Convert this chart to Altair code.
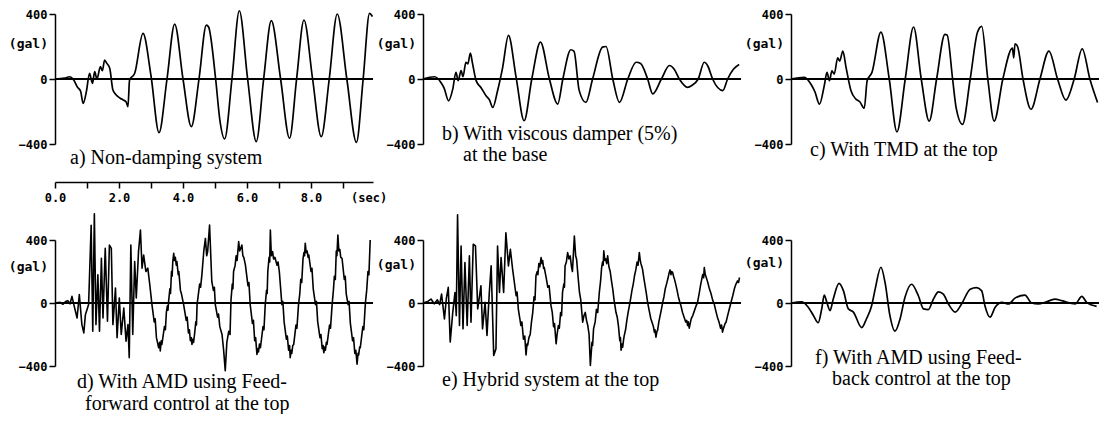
import altair as alt
import pandas as pd

# ---- values (time in s, acceleration in gal) ----
a_pts = [(0.00, 0), (0.30, 5), (0.46, 14), (0.58, -5), (0.70, -50), (0.80, -75), (0.88, -150),
         (0.98, -78), (1.08, 35), (1.17, -27), (1.24, 45), (1.31, 0), (1.42, 76), (1.48, 51),
         (1.55, 117), (1.62, 96), (1.71, 66), (1.81, -68), (1.90, -95), (1.97, -109), (2.05, -120),
         (2.13, -129), (2.22, -140), (2.28, -170), (2.33, -6), (2.49, 35), (2.75, 281), (3.00, 20),
         (3.25, -330), (3.50, 0), (3.74, 338), (4.00, 0), (4.26, -293), (4.50, 0), (4.73, 332),
         (4.80, 320), (5.02, 0), (5.15, -250), (5.30, -369), (5.53, 0), (5.76, 420), (6.02, 0),
         (6.29, -385), (6.52, 0), (6.76, 359), (7.05, 0), (7.33, -365), (7.55, 0), (7.78, 363),
         (8.05, 0), (8.32, -355), (8.57, 0), (8.82, 400), (9.12, 0), (9.42, -390), (9.63, 0),
         (9.83, 404), (9.92, 384)]

b_pts = [(0.00, 0), (0.36, 14), (0.56, -21), (0.66, -56), (0.80, -134), (0.93, -62), (1.03, 41),
         (1.10, -10), (1.19, 52), (1.25, 14), (1.34, 103), (1.40, 93), (1.48, 159), (1.55, 93),
         (1.66, -10), (1.81, -52), (1.97, -103), (2.08, -130), (2.18, -175), (2.33, -72), (2.49, 72),
         (2.67, 269), (2.91, 10), (3.16, -257), (3.40, 0), (3.67, 227), (3.95, 0), (4.21, -154),
         (4.37, 0), (4.62, 180), (4.72, 170), (4.88, -70), (5.09, -144), (5.30, 0), (5.61, 196),
         (5.72, 200), (5.93, 0), (6.14, -144), (6.40, 0), (6.66, 103), (6.80, 95), (7.02, 0),
         (7.18, -92), (7.45, 0), (7.70, 83), (7.85, 60), (8.01, 0), (8.27, -51), (8.40, -40),
         (8.60, 0), (8.79, 103), (8.90, 80), (9.05, 0), (9.37, -71), (9.52, 0), (9.70, 60),
         (9.88, 89)]

c_pts = [(0.00, 0), (0.42, 10), (0.62, -31), (0.75, -80), (0.89, -155), (1.04, -41), (1.125, 41),
         (1.20, -10), (1.28, 50), (1.35, 30), (1.46, 130), (1.52, 110), (1.62, 172), (1.72, 72),
         (1.875, -72), (2.03, -124), (2.15, -140), (2.29, -180), (2.38, -10), (2.53, 41),
         (2.81, 289), (3.07, 0), (3.31, -325), (3.57, 0), (3.83, 320), (4.07, 0), (4.32, -259),
         (4.55, 0), (4.81, 275), (4.88, 270), (5.05, 0), (5.16, -176), (5.36, -279), (5.60, 0),
         (5.83, 289), (5.96, 324), (6.15, 0), (6.35, -259), (6.62, 0), (6.92, 190), (6.96, 130),
         (7.00, 217), (7.08, 200), (7.25, 0), (7.50, -186), (7.78, 0), (8.06, 172), (8.33, 0),
         (8.59, -130), (8.85, 0), (9.10, 186), (9.34, 0), (9.58, -145), (9.78, 0), (9.95, 155)]

d_pts = [(0.00, 0), (0.15, 5), (0.25, -8), (0.33, 10), (0.40, 15), (0.47, -5), (0.53, 42),
         (0.60, -20), (0.69, -95), (0.76, 53), (0.84, -137), (0.90, -190), (0.95, -74), (1.05, -10),
         (1.13, 493), (1.18, -179), (1.23, 567), (1.28, -137), (1.34, 179), (1.39, -179), (1.45, 284),
         (1.50, -95), (1.57, 347), (1.64, -116), (1.70, 368), (1.76, 347), (1.81, -137), (1.89, 95),
         (1.94, -221), (2.01, 32), (2.07, -200), (2.15, -32), (2.22, -242), (2.28, -137), (2.32, -347),
         (2.37, 368), (2.43, -200), (2.49, 263), (2.54, 32), (2.61, 326), (2.67, 463), (2.72, 221),
         (2.77, 305), (2.84, 200), (2.90, 221), (2.96, 120), (3.03, -10), (3.10, -120), (3.13, -100),
         (3.17, -220), (3.24, -284), (3.27, -250), (3.29, -305), (3.32, -240), (3.34, -263),
         (3.42, -150), (3.45, -170), (3.48, -60), (3.51, -20), (3.53, -45), (3.55, 10), (3.59, 90),
         (3.61, 60), (3.64, 200), (3.66, 170), (3.68, 260), (3.71, 316), (3.73, 270), (3.76, 290),
         (3.79, 240), (3.81, 263), (3.85, 180), (3.87, 200), (3.92, 80), (3.95, 60), (4.02, -10),
         (4.10, -110), (4.13, -90), (4.17, -190), (4.20, -170), (4.23, -240), (4.26, -220),
         (4.28, -263), (4.31, -230), (4.33, -250), (4.36, -200), (4.40, -120), (4.42, -140),
         (4.44, -10), (4.52, 120), (4.55, 100), (4.59, 179), (4.65, 330), (4.70, 410), (4.74, 300),
         (4.77, 326), (4.83, 495), (4.90, 137), (4.95, 80), (4.98, 100), (5.01, -10), (5.08, -90),
         (5.11, -70), (5.15, -150), (5.22, -200), (5.27, -300), (5.32, -430), (5.37, -250),
         (5.43, -179), (5.47, -200), (5.50, 20), (5.54, 120), (5.56, 90), (5.58, 200), (5.63, 240),
         (5.66, 300), (5.69, 270), (5.74, 390), (5.77, 330), (5.79, 340), (5.84, 368), (5.87, 300),
         (5.90, 290), (5.95, 242), (6.03, 110), (6.06, 130), (6.10, -10), (6.17, -130), (6.20, -110),
         (6.24, -240), (6.27, -220), (6.31, -326), (6.34, -290), (6.36, -310), (6.39, -260),
         (6.42, -284), (6.50, -150), (6.53, -170), (6.57, -10), (6.61, 80), (6.63, 60), (6.65, 200),
         (6.69, 290), (6.71, 260), (6.73, 463), (6.76, 300), (6.80, 326), (6.83, 280), (6.87, 290),
         (6.94, 240), (6.97, 260), (7.01, 200), (7.09, -10), (7.12, 10), (7.16, -120), (7.23, -230),
         (7.26, -210), (7.30, -300), (7.33, -270), (7.35, -347), (7.38, -300), (7.40, -320),
         (7.43, -270), (7.46, -263), (7.53, -140), (7.56, -160), (7.61, -10), (7.65, 60), (7.68, 150),
         (7.71, 130), (7.75, 280), (7.78, 320), (7.80, 300), (7.82, 379), (7.85, 320), (7.88, 330),
         (7.91, 290), (7.93, 305), (8.00, 200), (8.03, 220), (8.07, 90), (8.14, -10), (8.17, 10),
         (8.21, -120), (8.28, -220), (8.31, -200), (8.35, -290), (8.38, -270), (8.40, -316),
         (8.43, -280), (8.45, -300), (8.48, -250), (8.50, -263), (8.58, -140), (8.61, -160),
         (8.66, -10), (8.70, 80), (8.73, 170), (8.76, 150), (8.79, 330), (8.81, 300), (8.84, 432),
         (8.87, 330), (8.90, 340), (8.93, 290), (8.97, 284), (9.04, 150), (9.07, 170), (9.10, 60),
         (9.16, -10), (9.19, 10), (9.23, -130), (9.30, -240), (9.33, -220), (9.37, -320),
         (9.40, -300), (9.44, -389), (9.47, -320), (9.49, -330), (9.52, -280), (9.54, -284),
         (9.62, -150), (9.65, -170), (9.70, 0), (9.74, 80), (9.78, 200), (9.81, 180), (9.85, 400)]

e_pts = [(0.00, 0), (0.15, 10), (0.25, 25), (0.35, -5), (0.45, 20), (0.52, -10), (0.58, 57),
         (0.67, -101), (0.73, 30), (0.79, 99), (0.85, -248), (0.93, -59), (1.00, 67), (1.04, -80),
         (1.08, 560), (1.14, -143), (1.19, 362), (1.25, -164), (1.31, 257), (1.38, -143), (1.45, 299),
         (1.50, -122), (1.57, 373), (1.64, 362), (1.71, -38), (1.81, 109), (1.86, -164), (1.94, 4),
         (2.00, -206), (2.07, 60), (2.13, 236), (2.21, -333), (2.28, -290), (2.33, 362), (2.39, 67),
         (2.44, 288), (2.52, 67), (2.59, 446), (2.67, 236), (2.73, 341), (2.80, 215), (2.91, 46),
         (2.94, 70), (2.98, -40), (3.06, -143), (3.09, -120), (3.14, -230), (3.18, -210),
         (3.22, -330), (3.25, -260), (3.27, -269), (3.31, -220), (3.35, -200), (3.39, -120),
         (3.43, -59), (3.47, 40), (3.50, 20), (3.53, 173), (3.57, 200), (3.59, 180), (3.62, 250),
         (3.65, 230), (3.69, 288), (3.72, 250), (3.74, 270), (3.77, 220), (3.79, 225), (3.85, 160),
         (3.90, 100), (3.94, 110), (4.00, -17), (4.04, -60), (4.08, -150), (4.11, -130), (4.16, -259),
         (4.19, -200), (4.23, -143), (4.26, -160), (4.30, -60), (4.33, -80), (4.36, 67), (4.40, 120),
         (4.42, 100), (4.44, 236), (4.48, 260), (4.52, 320), (4.56, 280), (4.60, 299), (4.64, 230),
         (4.67, 200), (4.73, 425), (4.77, 300), (4.80, 278), (4.84, 180), (4.89, 67), (4.93, 20),
         (4.99, -122), (5.03, -80), (5.07, -60), (5.11, -110), (5.15, -143), (5.19, -200),
         (5.23, -396), (5.28, -250), (5.30, -270), (5.33, -164), (5.38, -120), (5.42, -40),
         (5.46, -60), (5.51, 67), (5.55, 140), (5.58, 220), (5.61, 260), (5.63, 240), (5.65, 331),
         (5.68, 270), (5.71, 280), (5.74, 250), (5.77, 299), (5.81, 230), (5.85, 200), (5.89, 140),
         (5.93, 88), (5.97, 20), (6.03, -59), (6.07, -90), (6.11, -150), (6.15, -240), (6.17, -220),
         (6.19, -300), (6.22, -260), (6.24, -280), (6.27, -230), (6.29, -206), (6.33, -170),
         (6.37, -110), (6.41, -60), (6.45, -17), (6.49, 30), (6.53, 80), (6.57, 120), (6.61, 173),
         (6.65, 210), (6.69, 260), (6.72, 240), (6.76, 320), (6.79, 270), (6.81, 250), (6.84, 230),
         (6.86, 215), (6.90, 160), (6.94, 110), (6.98, 60), (7.02, 4), (7.07, -50), (7.12, -100),
         (7.17, -130), (7.20, -150), (7.23, -185), (7.25, -170), (7.28, -217), (7.31, -180),
         (7.33, -175), (7.37, -120), (7.41, -80), (7.45, -40), (7.49, 4), (7.53, 40), (7.57, 90),
         (7.61, 120), (7.65, 152), (7.69, 190), (7.72, 210), (7.75, 180), (7.77, 200), (7.80, 194),
         (7.83, 170), (7.86, 150), (7.91, 109), (7.94, 80), (7.98, 40), (8.02, 10), (8.06, -17),
         (8.11, -60), (8.16, -90), (8.21, -120), (8.24, -110), (8.27, -143), (8.29, -120),
         (8.32, -160), (8.35, -130), (8.38, -101), (8.43, -80), (8.48, -50), (8.53, -20), (8.58, 4),
         (8.63, 60), (8.68, 120), (8.71, 150), (8.74, 180), (8.77, 160), (8.79, 225), (8.82, 180),
         (8.84, 170), (8.87, 150), (8.90, 130), (8.95, 90), (9.00, 60), (9.05, 20), (9.10, -6),
         (9.15, -50), (9.20, -90), (9.25, -120), (9.30, -160), (9.33, -140), (9.36, -185),
         (9.39, -160), (9.41, -150), (9.44, -130), (9.47, -122), (9.52, -80), (9.57, -40),
         (9.62, 0), (9.68, 46), (9.73, 90), (9.78, 120), (9.83, 140), (9.86, 130), (9.89, 162)]

f_pts = [(0.00, 0), (0.33, 8), (0.54, -27), (0.70, -79), (0.85, -125), (0.96, -37), (1.04, 50),
         (1.12, 4), (1.22, -48), (1.32, 25), (1.50, 125), (1.64, 77), (1.79, -37), (1.95, -58),
         (2.21, -156), (2.36, -100), (2.52, -17), (2.63, 88), (2.81, 227), (2.94, 129), (3.09, -79),
         (3.25, -179), (3.41, -100), (3.56, 35), (3.77, 119), (3.98, 46), (4.14, -37), (4.29, -42),
         (4.45, 25), (4.61, 71), (4.76, 56), (4.92, -6), (5.13, -58), (5.33, -6), (5.60, 88),
         (5.80, 98), (5.96, 77), (6.06, -17), (6.22, -90), (6.38, -27), (6.59, 4), (6.80, -6),
         (7.00, 31), (7.31, 50), (7.52, 0), (7.73, -6), (7.94, 4), (8.25, 25), (8.46, 15), (8.88, -6),
         (9.09, 42), (9.24, 4), (9.55, -21), (9.76, 10), (9.92, 25)]

captions = {
    "a": [("a) Non-damping system", 15, 150)],
    "b": [("b) With viscous damper (5%)", 19, 126), ("at the base", 40, 147)],
    "c": [("c) With TMD at the top", 19, 142)],
    "d": [("d) With AMD using Feed-", 22, 148), ("forward control at the top", 30, 170)],
    "e": [("e) Hybrid system at the top", 19, 146)],
    "f": [("f) With AMD using Feed-", 24, 124), ("back control at the top", 41, 145)],
}

PX_PER_S = 32
W = 318
W_LAST = 308
H_TOP = 130
H_BOT = 126
MONO = "DejaVu Sans Mono"
SERIF = "Liberation Serif"

one = pd.DataFrame({"k": [0]})


def panel(pts, width, height, caps, interp, stroke, gal_y, time_axis=False):
    df = pd.DataFrame({"t": [p[0] for p in pts], "g": [p[1] for p in pts]})
    tmax = width / PX_PER_S
    df = df[df["t"] <= tmax]
    if time_axis:
        xaxis = alt.Axis(
            orient="bottom", offset=38, values=[0, 1, 2, 3, 4, 5, 6, 7, 8, 9, 9.8],
            labelExpr="datum.value == 9.8 ? '(sec)' : (datum.value % 2 == 0 ? format(datum.value, '.1f') : '')",
            tickOpacity={"condition": {"test": "datum.value > 9.5", "value": 0}, "value": 1},
            labelFlush=False, labelPadding=4, title=None, tickSize=6,
        )
    else:
        xaxis = None
    x = alt.X("t:Q", scale=alt.Scale(domain=[0, tmax], nice=False, zero=False), axis=xaxis)
    y = alt.Y("g:Q", scale=alt.Scale(domain=[-400, 400], nice=False),
              axis=alt.Axis(values=[-400, 0, 400], title=None, labelPadding=2))
    base = alt.Chart(df)
    zero = base.mark_rule(color="black", strokeWidth=1).encode(y=alt.datum(0))
    line = base.mark_line(color="black", strokeWidth=stroke, interpolate=interp,
                          strokeJoin="round").encode(x=x, y=y)
    gal = alt.Chart(one).mark_text(
        font=MONO, fontSize=13, fontWeight="bold", align="right", baseline="middle", color="black"
    ).encode(x=alt.value(-7), y=alt.value(gal_y), text=alt.value("(gal)"))
    layers = [zero, line, gal]
    for txt, cx, cy in caps:
        layers.append(
            alt.Chart(one).mark_text(
                font=SERIF, fontSize=20, align="left", baseline="alphabetic", color="black"
            ).encode(x=alt.value(cx), y=alt.value(cy), text=alt.value(txt))
        )
    return alt.layer(*layers).properties(width=width, height=height)


pa = panel(a_pts, W, H_TOP, captions["a"], "monotone", 1.7, 30, time_axis=True)
pb = panel(b_pts, W, H_TOP, captions["b"], "monotone", 1.7, 30)
pc = panel(c_pts, W_LAST, H_TOP, captions["c"], "monotone", 1.7, 30)
pd_ = panel(d_pts, W, H_BOT, captions["d"], "linear", 1.6, 27)
pe = panel(e_pts, W, H_BOT, captions["e"], "linear", 1.6, 25)
pf = panel(f_pts, W_LAST, H_BOT, captions["f"], "monotone", 1.7, 23)

chart = alt.concat(
    pa, pb, pc, pd_, pe, pf, columns=3, bounds="flush",
    spacing={"row": 96, "column": 50},
).properties(
    padding=0, background="white"
).configure_view(stroke=None).configure_axis(
    grid=False, domainColor="black", tickColor="black", labelColor="black",
    labelFont=MONO, labelFontSize=12, labelFontWeight="bold",
    domainWidth=1.5, tickWidth=1.5, tickSize=6,
)

chart.save("out.html", embed_options={"renderer": "svg", "actions": False})
